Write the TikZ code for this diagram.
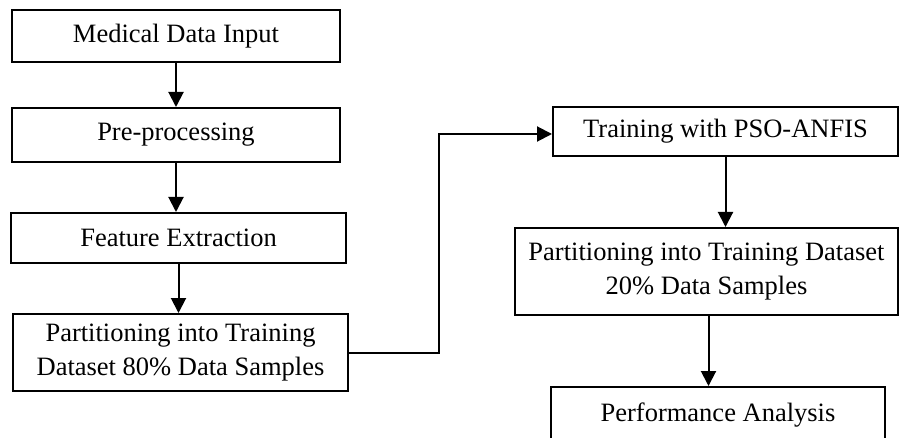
\documentclass[tikz,border=0pt]{standalone}
\usepackage{fontspec}
\setmainfont{Liberation Serif}
\usetikzlibrary{arrows.meta}

\tikzset{
  stage/.style={draw,line width=2pt,inner sep=2pt,align=center,
    font=\fontsize{26.5}{34.5}\selectfont},
  flow/.style={line width=2pt,-{Triangle[length=15pt,width=15pt]}}
}

\begin{document}
\begin{tikzpicture}[x=1pt,y=-1pt]
\useasboundingbox (0,0) rectangle (899,438);
\node[stage,minimum width=328pt,minimum height=52pt] (input) at (176,36) {Medical Data Input};
\node[stage,minimum width=328pt,minimum height=54pt] (prep) at (176,135) {Pre-processing};
\node[stage,minimum width=335pt,minimum height=50pt] (feat) at (178.5,238) {Feature Extraction};
\node[stage,minimum width=335pt,minimum height=77pt] (split80) at (180.5,352.5) {Partitioning into Training\\Dataset 80\% Data Samples};
\node[stage,minimum width=345pt,minimum height=49pt] (train) at (725.5,131.5) {Training with PSO-ANFIS};
\node[stage,minimum width=383pt,minimum height=87pt] (split20) at (706.5,271.5) {Partitioning into Training Dataset\\20\% Data Samples};
\node[stage,minimum width=334pt,minimum height=56pt] (perf) at (718,415) {Performance Analysis};
\coordinate (turn) at (439,134);
\draw[flow] (input.south) -- (prep.north);
\draw[flow] (prep.south) -- (prep.south |- feat.north);
\draw[flow] (feat.south) -- (feat.south |- split80.north);
\draw[flow] (split80.east) -- (split80.east -| turn) -- (turn) -- (turn -| train.west);
\draw[flow] (train.south) -- (train.south |- split20.north);
\draw[flow] ([xshift=2pt]split20.south) -- ([xshift=2pt]split20.south |- perf.north);
\end{tikzpicture}
\end{document}
